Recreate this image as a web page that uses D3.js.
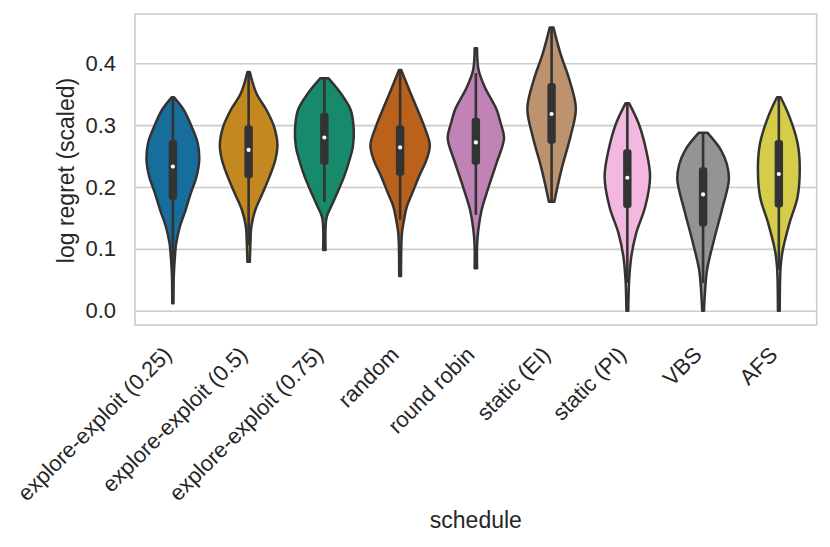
<!DOCTYPE html>
<html>
<head>
<meta charset="utf-8">
<script src="https://cdn.jsdelivr.net/npm/d3@7"></script>
<style>
  body { margin: 0; background: #fff; }
  text { font-family: "Liberation Sans", Arial, sans-serif; fill: #262626; }
</style>
</head>
<body>
<div id="chart"></div>
<script>
// Violin plot of log regret per schedule

const categories = [
    "explore-exploit (0.25)", "explore-exploit (0.5)", "explore-exploit (0.75)",
    "random", "round robin", "static (EI)", "static (PI)", "VBS", "AFS"
];

const colors = [
    "#176d9c", "#c3881f", "#168a6a", "#ba611b", "#c182b6",
    "#bd926e", "#f2b8e0", "#949494", "#d5cc4a"
];

// density profiles: [value, relative density]
const profileEE25 = [[0.345, 0.04], [0.3245, 0.36], [0.2975, 0.62], [0.2707, 0.82], [0.2437, 0.87], [0.2167, 0.78], [0.1898, 0.59], [0.1628, 0.42], [0.1358, 0.23], [0.109, 0.11], [0.082, 0.06], [0.055, 0.03], [0.012, 0.02]];
const profileEE50 = [[0.386, 0.04], [0.351, 0.26], [0.3245, 0.59], [0.2975, 0.84], [0.268, 0.95], [0.2437, 0.88], [0.2167, 0.69], [0.1898, 0.46], [0.1628, 0.22], [0.1358, 0.09], [0.109, 0.06], [0.079, 0.04]];
const profileEE75 = [[0.376, 0.13], [0.3515, 0.54], [0.3245, 0.87], [0.292, 0.97], [0.2648, 0.94], [0.2437, 0.83], [0.2167, 0.65], [0.1898, 0.42], [0.168, 0.22], [0.152, 0.08], [0.136, 0.04], [0.098, 0.04]];
const profileRandom = [[0.389, 0.04], [0.362, 0.26], [0.335, 0.49], [0.2975, 0.80], [0.268, 0.98], [0.2437, 0.87], [0.2167, 0.62], [0.1898, 0.40], [0.168, 0.22], [0.147, 0.13], [0.125, 0.06], [0.056, 0.03]];
const profileRR = [[0.4243, 0.04], [0.389, 0.09], [0.362, 0.29], [0.3245, 0.69], [0.303, 0.82], [0.2787, 0.93], [0.2383, 0.68], [0.2, 0.42], [0.1628, 0.19], [0.1305, 0.08], [0.1035, 0.04], [0.0685, 0.04]];
const profileEI = [[0.458, 0.06], [0.416, 0.29], [0.373, 0.59], [0.327, 0.80], [0.281, 0.62], [0.233, 0.35], [0.206, 0.22], [0.176, 0.09]];
const profilePI = [[0.3353, 0.06], [0.303, 0.37], [0.2598, 0.62], [0.2167, 0.75], [0.1681, 0.59], [0.1251, 0.29], [0.0873, 0.13], [0.05, 0.06], [0.0, 0.03]];
const profileVBS = [[0.2878, 0.14], [0.2598, 0.59], [0.236, 0.79], [0.2113, 0.85], [0.1628, 0.62], [0.1143, 0.36], [0.0658, 0.13], [0.0281, 0.06], [0.0, 0.03]];
const profileAFS = [[0.345, 0.06], [0.3137, 0.35], [0.2707, 0.62], [0.2328, 0.69], [0.1843, 0.62], [0.1413, 0.35], [0.0981, 0.13], [0.0711, 0.06], [0.0, 0.03]];

const profiles = [profileEE25, profileEE50, profileEE75, profileRandom, profileRR, profileEI, profilePI, profileVBS, profileAFS];

// inner box stats
const q1 = [0.179, 0.214, 0.236, 0.218, 0.236, 0.270, 0.166, 0.136, 0.167];
const medians = [0.233, 0.260, 0.280, 0.264, 0.272, 0.318, 0.215, 0.188, 0.221];
const q3 = [0.276, 0.300, 0.320, 0.300, 0.312, 0.368, 0.261, 0.232, 0.276];
const whiskerLow = [0.071, 0.106, 0.176, 0.147, 0.155, 0.176, 0.045, 0.045, 0.066];
const whiskerHigh = [0.345, 0.386, 0.376, 0.389, 0.384, 0.458, 0.335, 0.288, 0.345];

const yTicks = [0.0, 0.1, 0.2, 0.3, 0.4];

const margin = { top: 14, right: 13.3, bottom: 222, left: 135 };
const width = 830 - margin.left - margin.right;
const height = 547 - margin.top - margin.bottom;

const svg = d3.select("#chart")
    .append("svg")
    .attr("width", 830)
    .attr("height", 547)
    .append("g")
    .attr("transform", `translate(${margin.left},${margin.top})`);

const x = d3.scaleBand()
    .domain(categories)
    .range([0, width])
    .padding(0);

const y = d3.scaleLinear()
    .domain([-0.0231, 0.4797])
    .range([height, 0]);

const w = d3.scaleLinear()
    .domain([0, 1])
    .range([0, x.bandwidth() * 0.4]);

// grid
svg.append("g")
    .attr("class", "grid")
    .call(d3.axisLeft(y).tickValues(yTicks).tickSize(-width).tickFormat(""))
    .call(g => g.select(".domain").remove())
    .call(g => g.selectAll("line").attr("stroke", "#cccccc").attr("stroke-width", 1.6));

// frame
svg.append("rect")
    .attr("width", width)
    .attr("height", height)
    .attr("fill", "none")
    .attr("stroke", "#cccccc")
    .attr("stroke-width", 1.6);

// violins
const violins = svg.selectAll(".violin")
    .data(categories)
    .enter()
    .append("g")
    .attr("class", "violin")
    .attr("transform", d => `translate(${x(d) + x.bandwidth() / 2},0)`);

const area = d3.area()
    .y(d => y(d[0]))
    .x0(d => -w(d[1]))
    .x1(d => w(d[1]))
    .curve(d3.curveCatmullRom);

violins.append("path")
    .attr("d", (d, i) => area(profiles[i]))
    .attr("fill", (d, i) => colors[i])
    .attr("stroke", "#333333")
    .attr("stroke-width", 2.5)
    .attr("stroke-linejoin", "round");

violins.append("line")
    .attr("y1", (d, i) => y(whiskerLow[i]))
    .attr("y2", (d, i) => y(whiskerHigh[i]))
    .attr("stroke", "#333333")
    .attr("stroke-width", 2.6);

violins.append("rect")
    .attr("x", -4.2)
    .attr("width", 8.4)
    .attr("y", (d, i) => y(q3[i]))
    .attr("height", (d, i) => y(q1[i]) - y(q3[i]))
    .attr("rx", 3)
    .attr("fill", "#333333");

violins.append("circle")
    .attr("cy", (d, i) => y(medians[i]))
    .attr("r", 2.1)
    .attr("fill", "#ffffff");

// y axis
svg.append("g")
    .call(d3.axisLeft(y).tickValues(yTicks).tickSize(0).tickPadding(19).tickFormat(d3.format(".1f")))
    .call(g => g.select(".domain").remove())
    .call(g => g.selectAll("text").style("font-size", "22px").attr("fill", "#262626"));

// x axis
svg.append("g")
    .attr("transform", `translate(0,${height})`)
    .call(d3.axisBottom(x).tickSize(0))
    .call(g => g.select(".domain").remove())
    .call(g => g.selectAll("text")
        .style("font-size", "22px")
        .attr("fill", "#262626")
        .attr("x", 0)
        .attr("y", 0)
        .attr("dy", null)
        .attr("text-anchor", "end")
        .attr("transform", "translate(0,31) rotate(-45)"));

svg.append("text")
    .attr("x", width / 2)
    .attr("y", 528 - margin.top)
    .attr("text-anchor", "middle")
    .style("font-size", "23px")
    .text("schedule");

svg.append("text")
    .attr("transform", `translate(${74 - margin.left},${(height) / 2 + 1}) rotate(-90)`)
    .attr("text-anchor", "middle")
    .style("font-size", "23px")
    .text("log regret (scaled)");
</script>
</body>
</html>
